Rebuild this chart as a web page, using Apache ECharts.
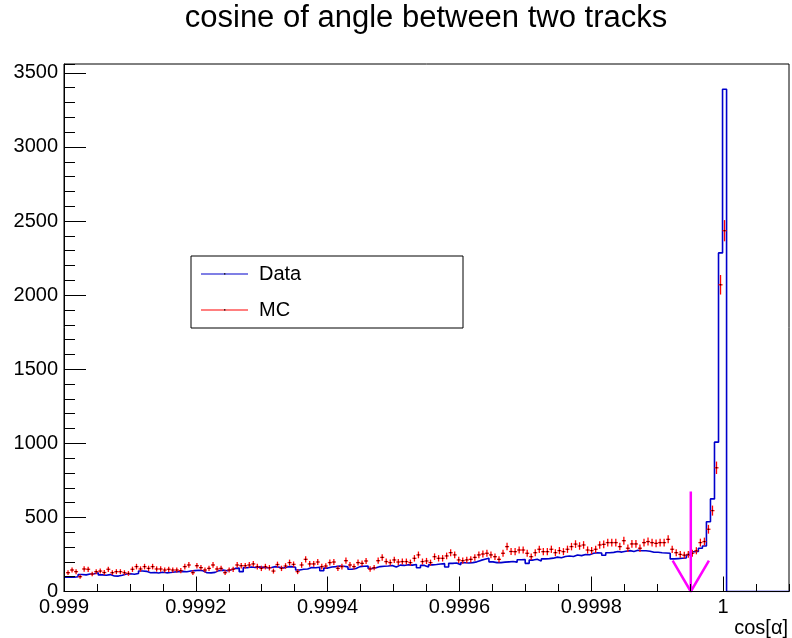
<!DOCTYPE html>
<html>
<head>
<meta charset="utf-8">
<script src="https://cdn.jsdelivr.net/npm/echarts@6/dist/echarts.min.js"></script>
<style>
  html, body { margin: 0; padding: 0; background: #fff; }
  #chart { width: 792px; height: 638px; }
</style>
</head>
<body>
<div id="chart"></div>
<script>
// axis range and histogram binning (bin edges sit half a bin off the axis start)
const xMin = 0.999;
const xMax = 1.0001;
const nBins = 180;
const yMax = 3560;

// Data counts per bin (bins 0..163), the rest are empty
const dataCounts = [
  96, 96, 100, 115, 112, 118, 120, 127, 112, 110,
  114, 105, 104, 110, 118, 120, 116, 122, 138, 136,
  127, 128, 125, 130, 126, 128, 132, 134, 136, 133,
  138, 141, 143, 140, 127, 126, 129, 141, 144, 140,
  146, 156, 158, 134, 160, 165, 162, 166, 163, 160,
  162, 168, 164, 158, 166, 168, 164, 145, 150, 152,
  162, 160, 164, 140, 158, 165, 168, 172, 170, 166,
  150, 155, 168, 170, 172, 155, 160, 168, 170, 172,
  176, 165, 178, 176, 180, 178, 182, 160, 176, 165,
  180, 182, 186, 188, 165, 190, 192, 180, 194, 192,
  195, 200, 210, 218, 224, 200, 195, 195, 198, 200,
  202, 198, 214, 216, 190, 212, 218, 205, 220, 222,
  225, 232, 228, 236, 240, 236, 246, 242, 250, 248,
  258, 262, 260, 245, 262, 264, 270, 266, 272, 276,
  270, 278, 275, 275, 272, 265, 265, 262, 260, 258,
  220, 222, 224, 226, 247, 268, 270, 292, 307, 471,
  625, 1008, 2285, 3390
];

// MC counts per bin (bins 0..163)
const mcCounts = [
  127, 145, 134, 100, 152, 150, 118, 134, 138, 128,
  150, 127, 134, 134, 127, 122, 150, 168, 152, 168,
  156, 168, 152, 152, 145, 150, 145, 145, 141, 168,
  179, 127, 174, 161, 145, 156, 179, 152, 156, 127,
  145, 150, 179, 174, 174, 179, 186, 168, 156, 168,
  160, 138, 182, 156,
  172, 195, 183, 134, 179, 217, 186, 186, 199, 168,
  172, 195, 199, 156, 168, 208, 179, 168, 195, 190,
  206, 152, 161, 208, 230, 202, 195, 213, 199, 202,
  202, 195, 224, 247, 202, 206, 195, 235, 224, 224,
  240, 262, 247, 213, 208, 213, 217, 230, 247, 253,
  258, 247, 235, 217, 258, 303, 270, 269, 280, 280,
  258, 235, 262, 285, 269, 269, 285, 262, 276, 269,
  285, 303, 320, 307, 314, 280, 276, 285, 314, 318,
  330, 330, 330, 303, 343, 292, 321, 321, 292, 330,
  337, 330, 325, 330, 330, 352,
  285, 262, 250, 245, 250, 258, 275, 330, 337, 420,
  546, 835, 2070, 2435
];
const mcErrScale = 1.45;

// cut arrow (x position, shaft top, head ends)
const arrowShaft = [[0.999951, 675], [0.999951, 0]];
const arrowHead = [[0.9999235, 208], [0.999951, 0], [0.9999785, 208]];

const legendItems = ['Data', 'MC'];

const binW = (xMax - xMin) / nBins;
const hLow = xMin + binW / 2;
const FONT = "'Liberation Sans', Arial, sans-serif";
const BLUE = '#0000cc';
const RED = '#ff0000';

// step outline of the data histogram (first bin is cut by the axis start)
const histLine = [[xMin, dataCounts[0]]];
for (let k = 1; k < nBins; k++) {
  histLine.push([hLow + k * binW, dataCounts[k] || 0]);
}
histLine.push([xMax, 0]);

const mcPoints = mcCounts.map((v, k) => [hLow + (k + 0.5) * binW, v, mcErrScale * Math.sqrt(v)]);

const chart = echarts.init(document.getElementById('chart'));

function fmtX(v) {
  const n = Math.round(v * 1e4);
  if (n % 2 !== 0) return '';
  return String(n / 1e4);
}
function fmtY(v) {
  return Math.abs(v % 500) < 1e-6 ? String(v) : '';
}

chart.setOption({
  animation: false,
  grid: { left: 64, right: 3, top: 64, bottom: 46.5, show: true, borderColor: '#000', borderWidth: 1, backgroundColor: 'transparent' },
  xAxis: [
    {
      type: 'value', min: xMin, max: xMax, interval: 0.0002, position: 'bottom', z: 5,
      axisLine: { show: true, lineStyle: { color: '#000', width: 1 } },
      axisTick: { show: true, inside: true, length: 15, lineStyle: { color: '#000' } },
      axisLabel: { show: true, formatter: fmtX, showMaxLabel: false, color: '#000', fontSize: 20, fontFamily: FONT, margin: 6 },
      splitLine: { show: false }
    },
    {
      type: 'value', min: xMin, max: xMax, interval: 0.00005, position: 'bottom', z: 5,
      axisLine: { show: false },
      axisTick: { show: true, inside: true, length: 7.5, lineStyle: { color: '#000' } },
      axisLabel: { show: false },
      splitLine: { show: false }
    }
  ],
  yAxis: [
    {
      type: 'value', min: 0, max: yMax, interval: 500, position: 'left', z: 5,
      axisLine: { show: true, lineStyle: { color: '#000', width: 1 } },
      axisTick: { show: true, inside: true, length: 22, lineStyle: { color: '#000' } },
      axisLabel: { show: true, formatter: fmtY, showMaxLabel: false, color: '#000', fontSize: 20, fontFamily: FONT, margin: 6 },
      splitLine: { show: false }
    },
    {
      type: 'value', min: 0, max: yMax, interval: 100, position: 'left', z: 5,
      axisLine: { show: false },
      axisTick: { show: true, inside: true, length: 11, lineStyle: { color: '#000' } },
      axisLabel: { show: false },
      splitLine: { show: false }
    }
  ],
  series: [
    {
      name: 'Data', type: 'line', step: 'end', data: histLine, symbol: 'none',
      xAxisIndex: 0, yAxisIndex: 0, z: 2,
      lineStyle: { color: BLUE, width: 1.6 }
    },
    {
      name: 'MC', type: 'custom', data: mcPoints, xAxisIndex: 0, yAxisIndex: 0, z: 3,
      encode: { x: 0, y: 1 },
      renderItem: function (params, api) {
        const x = api.value(0), y = api.value(1), e = api.value(2);
        const c = api.coord([x, y]);
        const l = api.coord([x - binW / 2, y])[0];
        const r = api.coord([x + binW / 2, y])[0];
        const t = api.coord([x, y + e])[1];
        const b = api.coord([x, y - e])[1];
        return {
          type: 'group',
          children: [
            { type: 'line', shape: { x1: l, y1: c[1], x2: r, y2: c[1] }, style: { stroke: RED, lineWidth: 1.3 } },
            { type: 'line', shape: { x1: c[0], y1: t, x2: c[0], y2: b }, style: { stroke: RED, lineWidth: 1.3 } },
            { type: 'rect', shape: { x: c[0] - 0.6, y: c[1] - 0.6, width: 1.2, height: 1.2 }, style: { fill: '#000' } }
          ]
        };
      }
    },
    {
      type: 'line', data: arrowShaft, symbol: 'none', clip: false, z: 4,
      lineStyle: { color: '#ff00ff', width: 2.5 }
    },
    {
      type: 'line', data: arrowHead, symbol: 'none', clip: false, z: 4,
      lineStyle: { color: '#ff00ff', width: 2.5 }
    }
  ],
  graphic: [
    {
      type: 'text', x: 426, y: 18, z: 10,
      style: { text: 'cosine of angle between two tracks', fill: '#000', font: '31px ' + FONT, textAlign: 'center', textVerticalAlign: 'middle' }
    },
    {
      type: 'text', x: 788, y: 628, z: 10,
      style: { text: 'cos[α]', fill: '#000', font: '20px ' + FONT, textAlign: 'right', textVerticalAlign: 'middle' }
    },
    {
      type: 'group', x: 191, y: 256, z: 10,
      children: [
        { type: 'rect', shape: { x: 0, y: 0, width: 272, height: 72 }, style: { fill: '#fff', stroke: '#000', lineWidth: 1 } },
        { type: 'line', shape: { x1: 10, y1: 18, x2: 57, y2: 18 }, style: { stroke: BLUE, lineWidth: 1.2 } },
        { type: 'rect', shape: { x: 33, y: 17.2, width: 1.4, height: 1.4 }, style: { fill: '#000' } },
        { type: 'text', x: 68, y: 18, style: { text: legendItems[0], fill: '#000', font: '20px ' + FONT, textVerticalAlign: 'middle' } },
        { type: 'line', shape: { x1: 10, y1: 54, x2: 57, y2: 54 }, style: { stroke: RED, lineWidth: 1.2 } },
        { type: 'rect', shape: { x: 33, y: 53.2, width: 1.4, height: 1.4 }, style: { fill: '#000' } },
        { type: 'text', x: 68, y: 54, style: { text: legendItems[1], fill: '#000', font: '20px ' + FONT, textVerticalAlign: 'middle' } }
      ]
    }
  ]
});
</script>
</body>
</html>
